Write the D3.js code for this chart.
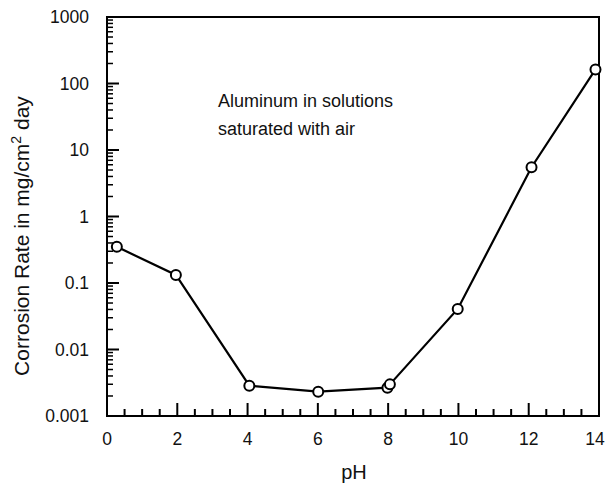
<!DOCTYPE html>
<html>
<head>
<meta charset="utf-8">
<script src="https://cdn.jsdelivr.net/npm/d3@7"></script>
<style>
  html, body { margin: 0; padding: 0; background: #fff; }
  svg { display: block; font-family: "Liberation Sans", Arial, Helvetica, sans-serif; }
</style>
</head>
<body>
<svg id="chart" width="606" height="483"></svg>
<script>
const pH   = [0.28, 1.96, 4.05, 6.01, 7.98, 8.05, 9.98, 12.08, 13.9];
const rate = [0.35, 0.132, 0.00286, 0.00232, 0.00267, 0.00299, 0.0407, 5.5, 163];
const xTicks = [0, 2, 4, 6, 8, 10, 12, 14];
const yTicks = [0.001, 0.01, 0.1, 1, 10, 100, 1000];
const yTickLabels = ["0.001", "0.01", "0.1", "1", "10", "100", "1000"];
const noteLines = ["Aluminum in solutions", "saturated with air"];

const svg = d3.select("#chart");
const m = { left: 107, top: 17, right: 599, bottom: 416 };
const x = d3.scaleLinear().domain([0, 14]).range([m.left, m.right]);
const y = d3.scaleLog().domain([0.001, 1000]).range([m.bottom, m.top]);

// minor ticks
const xMinor = d3.range(0, 14.01, 0.5).filter(v => Math.abs(v % 2) > 1e-9);
const yMinor = [];
for (let e = -3; e < 3; e++) for (let k = 2; k <= 9; k++) yMinor.push(k * Math.pow(10, e));

const g = svg.append("g");
g.selectAll(".xminor").data(xMinor).join("line")
  .attr("x1", d => x(d)).attr("x2", d => x(d))
  .attr("y1", m.bottom).attr("y2", m.bottom - 7)
  .attr("stroke", "#000").attr("stroke-width", 2);
g.selectAll(".xmajor").data(xTicks).join("line")
  .attr("x1", d => x(d)).attr("x2", d => x(d))
  .attr("y1", m.bottom).attr("y2", m.bottom - 13)
  .attr("stroke", "#000").attr("stroke-width", 2);
g.selectAll(".yminor").data(yMinor).join("line")
  .attr("x1", m.left).attr("x2", m.left + 6)
  .attr("y1", d => y(d)).attr("y2", d => y(d))
  .attr("stroke", "#000").attr("stroke-width", 1.5);
g.selectAll(".ymajor").data(yTicks).join("line")
  .attr("x1", m.left).attr("x2", m.left + 12)
  .attr("y1", d => y(d)).attr("y2", d => y(d))
  .attr("stroke", "#000").attr("stroke-width", 2);

// frame
svg.append("rect")
  .attr("x", m.left).attr("y", m.top)
  .attr("width", m.right - m.left).attr("height", m.bottom - m.top)
  .attr("fill", "none").attr("stroke", "#000").attr("stroke-width", 2);

// tick labels
svg.selectAll(".xl").data(xTicks).join("text")
  .attr("x", d => Math.min(x(d), 595)).attr("y", 445)
  .attr("text-anchor", "middle").attr("font-size", 17.5).attr("fill", "#111")
  .text(d => d);
svg.selectAll(".yl").data(yTicks).join("text")
  .attr("x", 89).attr("y", d => y(d)).attr("dy", "0.35em")
  .attr("text-anchor", "end").attr("font-size", 17.5).attr("fill", "#111")
  .text((d, i) => yTickLabels[i]);

// axis titles
svg.append("text").attr("x", 354).attr("y", 479)
  .attr("text-anchor", "middle").attr("font-size", 20).attr("fill", "#111").text("pH");
const yl = svg.append("text")
  .attr("transform", "translate(29,236) rotate(-90)")
  .attr("text-anchor", "middle").attr("font-size", 21).attr("fill", "#111");
yl.append("tspan").text("Corrosion Rate in mg/cm");
yl.append("tspan").attr("dy", -8).attr("font-size", 14).text("2");
yl.append("tspan").attr("dy", 8).text(" day");

// annotation
svg.selectAll(".note").data(noteLines).join("text")
  .attr("x", 218).attr("y", (d, i) => 107 + i * 28)
  .attr("font-size", 18).attr("fill", "#111").text(d => d);

// data
const data = pH.map((v, i) => ({ x: v, y: rate[i] }));
svg.append("path").datum(data)
  .attr("d", d3.line().x(d => x(d.x)).y(d => y(d.y)))
  .attr("fill", "none").attr("stroke", "#000").attr("stroke-width", 2.2);
svg.selectAll(".pt").data(data).join("circle")
  .attr("cx", d => x(d.x)).attr("cy", d => y(d.y)).attr("r", 5)
  .attr("fill", "#fff").attr("stroke", "#000").attr("stroke-width", 2);
</script>
</body>
</html>
